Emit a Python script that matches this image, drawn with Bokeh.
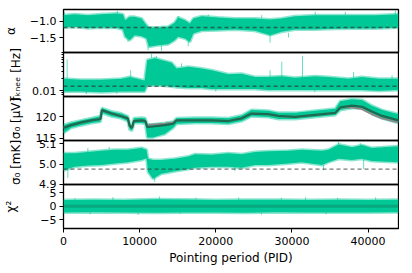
from bokeh.plotting import figure
from bokeh.layouts import column
from bokeh.models import Range1d, FixedTicker, Span
from bokeh.embed import file_html
from bokeh.resources import INLINE

# ---------------- data ----------------
pid_start, pid_end = 0, 44000
x_ticks = [0, 10000, 20000, 30000, 40000]
x_tick_labels = ["0", "10000", "20000", "30000", "40000"]
x_title = "Pointing period (PID)"

# panel 1: alpha
alpha_title = "α"
alpha_range = (-1.94, -0.65)
alpha_ticks = [-1.5, -1.0]
alpha_tick_labels = ["−1.5", "−1.0"]
alpha_prior = -1.19
alpha_pid = [0, 1450, 3200, 4950, 6950, 7800, 8100, 8700, 9350, 10250, 10900, 11200, 12400,
             13750, 14600, 15050, 15950, 16600, 17050, 18150, 20300, 22500, 25150, 27150,
             28650, 30400, 33050, 35700, 38300, 40950, 44000]
alpha_hi = [-0.82, -0.79, -0.82, -0.79, -0.77, -0.79, -0.97, -0.87, -0.87, -0.92, -1.12, -1.19,
            -1.19, -1.17, -1.05, -0.89, -0.97, -1.07, -0.92, -0.85, -0.89, -0.92, -0.92, -0.95,
            -0.92, -0.85, -0.82, -0.82, -0.82, -0.82, -0.79]
alpha_lo = [-1.19, -1.17, -1.21, -1.19, -1.20, -1.25, -1.47, -1.57, -1.42, -1.45, -1.52, -1.77,
            -1.72, -1.69, -1.57, -1.47, -1.52, -1.62, -1.37, -1.29, -1.27, -1.25, -1.29, -1.42,
            -1.32, -1.25, -1.25, -1.23, -1.22, -1.22, -1.19]
alpha_spike_pid = [130, 7070, 8470, 11110, 12860, 15060, 16380, 19010, 26030, 27130, 29550, 33060, 37010, 43590]
alpha_spike_from = [-0.82, -0.77, -1.40, -1.77, -1.72, -0.92, -1.55, -0.86, -0.92, -1.40, -1.35, -0.82, -0.82, -0.80]
alpha_spike_to = [-0.72, -0.69, -1.62, -1.87, -1.89, -0.85, -1.75, -0.79, -0.82, -1.65, -1.49, -0.72, -0.72, -0.67]

# panel 2: f_knee (log)
fk_title = "fₖₙₑₑ [Hz]"
fk_range = (0.00714, 0.091)
fk_ticks = [0.01]
fk_tick_labels = ["0.01"]
fk_minor_ticks = [0.008, 0.009, 0.02, 0.03, 0.04, 0.05, 0.06, 0.07, 0.08, 0.09]
fk_prior = 0.0129
fk_pid = [0, 2300, 4950, 7600, 8700, 10650, 11000, 12000, 12850, 14200, 14850, 16400, 18150,
          19450, 21650, 23400, 25150, 26900, 28650, 30400, 33050, 34800, 37450, 39200, 41400, 44000]
fk_hi = [0.0200, 0.0188, 0.0188, 0.0200, 0.0220, 0.0181, 0.0591, 0.0652, 0.0591, 0.0505, 0.0361,
         0.0398, 0.0361, 0.0327, 0.0258, 0.0268, 0.0220, 0.0220, 0.0229, 0.0212, 0.0229, 0.0220,
         0.0200, 0.0220, 0.0200, 0.0200]
fk_lo = [0.0096, 0.0096, 0.0091, 0.0096, 0.0096, 0.0096, 0.0134, 0.0134, 0.0134, 0.0127, 0.0122,
         0.0117, 0.0117, 0.0110, 0.0110, 0.0110, 0.0110, 0.0104, 0.0104, 0.0104, 0.0104, 0.0104,
         0.0104, 0.0104, 0.0100, 0.0104]
fk_spike_pid = [480, 8820, 11550, 12200, 15500, 27130, 28670, 31390, 38100, 43150, 3000, 7000, 20000, 33000]
fk_spike_from = [0.0200, 0.0220, 0.0652, 0.0652, 0.0398, 0.0220, 0.0229, 0.0212, 0.0200, 0.0200,
                 0.0096, 0.0096, 0.0110, 0.0104]
fk_spike_to = [0.0614, 0.0327, 0.0841, 0.0748, 0.0485, 0.0327, 0.0535, 0.0748, 0.0296, 0.0243,
               0.0082, 0.0084, 0.0095, 0.0092]

# panel 3: sigma0 [uV]
suv_title = "σ₀ [μV]"
suv_range = (114.52, 124.76)
suv_ticks = [115, 120]
suv_tick_labels = ["115", "120"]
suv_pid = [0, 1000, 2350, 3650, 4850, 5050, 6300, 7600, 8450, 8700, 9000, 9250, 10250, 10750,
           11000, 11750, 13300, 14400, 14850, 17250, 19450, 21650, 23400, 24700, 26900, 28250,
           30400, 33050, 35700, 36350, 37900, 39200, 40500, 41850, 44000]
suv_mean = [117.46, 118.09, 118.73, 119.21, 119.52, 121.59, 120.79, 120.16, 119.68, 117.86, 117.46,
            119.05, 119.21, 119.05, 117.62, 117.78, 118.09, 118.41, 119.21, 119.21, 119.21, 119.05,
            119.68, 120.79, 120.64, 120.24, 120.00, 120.48, 120.95, 122.22, 122.62, 122.38, 121.27,
            120.24, 119.21]
suv_other = [117.46, 118.09, 118.73, 119.21, 119.52, 121.59, 120.79, 120.16, 119.68, 117.86, 117.46,
             119.05, 119.21, 119.05, 118.09, 118.25, 118.41, 118.73, 119.21, 119.21, 119.21, 119.05,
             119.68, 120.79, 120.64, 120.24, 120.00, 120.48, 120.95, 122.22, 122.22, 121.83, 120.64,
             119.68, 118.73]
suv_hi = [118.09, 118.65, 119.21, 119.68, 120.16, 122.06, 121.27, 120.79, 120.16, 118.41, 118.09,
          119.68, 119.84, 119.68, 118.25, 118.25, 118.57, 118.89, 119.68, 119.84, 119.84, 119.68,
          120.32, 121.59, 121.43, 120.95, 120.95, 121.43, 121.91, 123.65, 124.13, 123.97, 122.62,
          121.59, 120.64]
suv_lo = [116.27, 117.46, 118.09, 118.57, 118.89, 120.95, 120.16, 119.68, 119.05, 117.06, 116.82,
          118.57, 118.57, 118.41, 115.24, 115.24, 116.03, 117.46, 118.41, 118.57, 118.57, 118.41,
          119.05, 120.16, 120.00, 119.52, 119.52, 120.00, 120.48, 121.59, 122.06, 122.06, 120.79,
          119.68, 118.65]

# panel 4: sigma0 [mK]
smk_title = "σ₀ [mK]"
smk_range = (4.898, 5.117)
smk_ticks = [4.9, 5.0, 5.1]
smk_tick_labels = ["4.9", "5.0", "5.1"]
smk_prior = 4.975
smk_pid = [0, 1450, 3200, 4950, 6700, 8450, 10250, 10900, 11100, 11750, 12850, 14600, 16400, 17250,
           19450, 21650, 23400, 25150, 26900, 29550, 31300, 33950, 34800, 36150, 37900, 39200,
           40500, 41850, 44000]
smk_hi = [5.054, 5.054, 5.060, 5.066, 5.071, 5.071, 5.080, 5.071, 5.026, 5.020, 5.020, 5.026, 5.037,
          5.049, 5.046, 5.054, 5.049, 5.060, 5.063, 5.066, 5.071, 5.066, 5.071, 5.097, 5.083, 5.094,
          5.080, 5.083, 5.088]
smk_lo = [4.969, 4.986, 4.992, 4.995, 5.003, 5.009, 5.020, 5.029, 4.961, 4.927, 4.952, 4.964, 4.975,
          4.981, 4.986, 4.986, 4.981, 4.995, 4.995, 5.003, 5.009, 4.995, 5.009, 5.026, 5.020, 5.026,
          5.015, 5.012, 5.009]
smk_spike_pid = [570, 11985, 22520, 34150, 39420, 3200, 36130, 38980, 6000]
smk_spike_from = [4.975, 4.950, 4.985, 4.995, 5.026, 5.060, 5.097, 5.083, 5.071]
smk_spike_to = [4.930, 4.910, 4.964, 4.969, 4.975, 5.080, 5.110, 5.105, 5.085]

# panel 5: chi^2
chi_title = "χ²"
chi_range = (-8.3, 8.1)
chi_ticks = [-5, 0, 5]
chi_tick_labels = ["−5", "0", "5"]
chi_center = 0
chi_pid = [0, 4000, 8000, 12000, 16000, 20000, 24000, 28000, 32000, 36000, 40000, 44000]
chi_hi = [2.3, 2.4, 2.3, 2.6, 2.5, 2.3, 2.4, 2.4, 2.3, 2.4, 2.3, 2.4]
chi_lo = [-2.3, -2.2, -2.3, -2.4, -2.3, -2.3, -2.4, -2.2, -2.3, -2.3, -2.3, -2.2]
chi_spike_pid = [1500, 6500, 12600, 17400, 23000, 28600, 31800, 36000, 41000, 3500, 9800, 15300, 26000, 34500]
chi_spike_from = [2.3, 2.3, 2.6, 2.5, 2.4, 2.4, 2.3, 2.4, 2.3, -2.2, -2.3, -2.3, -2.4, -2.3]
chi_spike_to = [3.1, 3.4, 3.6, 3.2, 3.3, 3.2, 3.4, 3.1, 3.3, -3.0, -3.2, -2.9, -3.1, -3.0]

# ---------------- styling ----------------
GREEN = "#00c896"
DARK_GREEN = "#1b6b50"
GREY = "#8a8a8a"
FONT = "DejaVu Sans"
EXTRA = 14   # hidden overlap border so that texts may spill into the neighbouring panel
LEFT = 62

x_range = Range1d(pid_start, pid_end)


def panel(yr, ticks, labels, title, standoff, frame_h=44, top=EXTRA, bottom=EXTRA,
          margin=(-EXTRA, 0, -EXTRA, 0), log=False, minor=None, xaxis=False):
    p = figure(width=LEFT + 335 + 2, height=frame_h + top + bottom, frame_width=335,
               frame_height=frame_h, x_range=x_range, y_range=Range1d(*yr),
               y_axis_type="log" if log else "linear",
               x_axis_location="below" if xaxis else None,
               output_backend="svg", toolbar_location=None,
               min_border_left=LEFT, min_border_right=2,
               min_border_top=top, min_border_bottom=bottom, margin=margin)
    p.grid.visible = False
    p.outline_line_color = "black"
    p.outline_line_width = 1.3
    p.background_fill_alpha = 0
    p.border_fill_alpha = 0
    ax = p.yaxis[0]
    ax.ticker = FixedTicker(ticks=ticks, minor_ticks=minor or [])
    ax.major_label_overrides = dict(zip(ticks, labels))
    ax.axis_line_color = None
    ax.major_tick_out = 4
    ax.major_tick_in = 0
    ax.major_tick_line_color = "black"
    ax.minor_tick_out = 2
    ax.minor_tick_in = 0
    ax.minor_tick_line_color = "black" if minor else None
    ax.major_label_standoff = 3
    ax.major_label_text_font = FONT
    ax.major_label_text_font_size = "11px"
    ax.major_label_text_color = "black"
    ax.axis_label = title
    ax.axis_label_text_font = FONT
    ax.axis_label_text_font_size = "12px"
    ax.axis_label_text_font_style = "normal"
    ax.axis_label_text_color = "black"
    ax.axis_label_standoff = standoff
    if xaxis:
        xa = p.xaxis[0]
        xa.ticker = FixedTicker(ticks=x_ticks)
        xa.major_label_overrides = dict(zip(x_ticks, x_tick_labels))
        xa.axis_line_color = None
        xa.major_tick_out = 4
        xa.major_tick_in = 0
        xa.major_tick_line_color = "black"
        xa.minor_tick_line_color = None
        xa.major_label_standoff = 4
        xa.major_label_text_font = FONT
        xa.major_label_text_font_size = "11px"
        xa.major_label_text_color = "black"
        xa.axis_label = x_title
        xa.axis_label_text_font = FONT
        xa.axis_label_text_font_size = "12px"
        xa.axis_label_text_font_style = "normal"
        xa.axis_label_text_color = "black"
        xa.axis_label_standoff = 3
    return p


def band(p, pid, lo, hi):
    p.varea(x=pid, y1=lo, y2=hi, fill_color=GREEN, fill_alpha=1.0)
    p.line(pid, hi, line_color=GREEN, line_width=3, line_alpha=0.45)
    p.line(pid, lo, line_color=GREEN, line_width=3, line_alpha=0.45)


def spikes(p, pid, y0, y1):
    p.segment(x0=pid, y0=y0, x1=pid, y1=y1, line_color=GREEN, line_alpha=0.6, line_width=1)


def prior(p, v):
    p.add_layout(Span(location=v, dimension="width", line_color="#303030", line_alpha=0.65,
                      line_dash="4 3", line_width=1.3))


p1 = panel(alpha_range, alpha_ticks, alpha_tick_labels, alpha_title, 9, frame_h=43, top=9,
           margin=(0, 0, -EXTRA, 0))
band(p1, alpha_pid, alpha_lo, alpha_hi)
spikes(p1, alpha_spike_pid, alpha_spike_from, alpha_spike_to)
prior(p1, alpha_prior)

p2 = panel(fk_range, fk_ticks, fk_tick_labels, fk_title, 6, log=True, minor=fk_minor_ticks)
band(p2, fk_pid, fk_lo, fk_hi)
spikes(p2, fk_spike_pid, fk_spike_from, fk_spike_to)
prior(p2, fk_prior)

p3 = panel(suv_range, suv_ticks, suv_tick_labels, suv_title, 10)
band(p3, suv_pid, suv_lo, suv_hi)
p3.line(suv_pid, suv_other, line_color=GREY, line_width=2)
p3.line(suv_pid, suv_mean, line_color=DARK_GREEN, line_width=2.2)

p4 = panel(smk_range, smk_ticks, smk_tick_labels, smk_title, 13)
band(p4, smk_pid, smk_lo, smk_hi)
spikes(p4, smk_spike_pid, smk_spike_from, smk_spike_to)
prior(p4, smk_prior)

p5 = panel(chi_range, chi_ticks, chi_tick_labels, chi_title, 19, bottom=37,
           margin=(-EXTRA, 0, 0, 0), xaxis=True)
band(p5, chi_pid, chi_lo, chi_hi)
spikes(p5, chi_spike_pid, chi_spike_from, chi_spike_to)
p5.add_layout(Span(location=chi_center, dimension="width", line_color=DARK_GREEN,
                   line_alpha=0.35, line_width=3))

layout = column(p1, p2, p3, p4, p5, spacing=0)
open("out.html", "w").write(file_html(layout, INLINE))
